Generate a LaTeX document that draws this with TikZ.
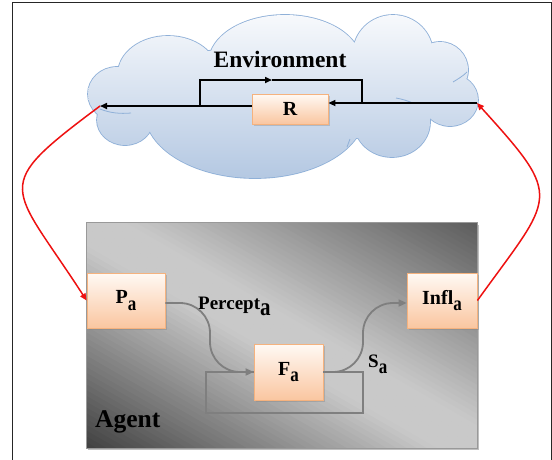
\documentclass[tikz,border=0pt]{standalone}
\usepackage{fontspec}
\setmainfont{Liberation Serif}
\usepackage{graphicx}
\usetikzlibrary{arrows.meta,shadows,calc}
\definecolor{boxtop}{HTML}{FFF9F4}
\definecolor{boxbot}{HTML}{FAC6A0}
\definecolor{boxline}{HTML}{F5B27E}
\definecolor{cloudtop}{HTML}{F7F9FC}
\definecolor{cloudbot}{HTML}{B4C8E2}
\definecolor{cloudline}{HTML}{8FB0D8}
\definecolor{flowgray}{HTML}{7F7F7F}
\definecolor{agdark}{HTML}{404040}
\definecolor{agdarkb}{HTML}{5C5C5C}
\definecolor{aglight}{HTML}{C9C9C9}
\definecolor{redline}{HTML}{EE1111}
\newcommand{\subA}[1][17]{\raisebox{-0.33em}{\fontsize{#1}{#1}\selectfont\scalebox{1}[1.2]{a}}}
\begin{document}
\begin{tikzpicture}[x=1pt,y=-1pt,
  box/.style={draw=boxline, line width=0.8pt, top color=boxtop, bottom color=boxbot,
    drop shadow={shadow xshift=1.5pt, shadow yshift=-1.5pt, opacity=0.35},
    font=\fontsize{20}{20}\selectfont\bfseries, inner sep=0pt},
  lbl/.style={font=\fontsize{19}{19}\selectfont\bfseries, inner sep=0pt},
  blk/.style={draw=black, line width=1.6pt, -{Triangle[length=7pt,width=6pt]}},
  blkline/.style={draw=black, line width=1.6pt},
  gr/.style={draw=flowgray, line width=1.8pt, -{Triangle[length=8pt,width=7pt]}},
  grline/.style={draw=flowgray, line width=1.8pt},
  redarr/.style={draw=redline, line width=1.5pt, -{Triangle[length=7pt,width=6pt]}},
  puffline/.style={draw=cloudline, line width=0.8pt}]
\useasboundingbox (0,0) rectangle (552,459);
\fill[white] (0,0) rectangle (552,459);
\draw[black!85, line width=0.9pt] (12,470) -- (12,2.5) -- (551,2.5) -- (551,470);

% environment cloud (union of puffs: outline first, shading on top)
\draw[cloudline, line width=1.7pt]
  foreach \cx/\cy/\rx/\ry in {117/94/29/27, 168/74/50/38, 285/62/76/47, 393/54/40/39,
    440/70/28/28, 450/100/28/26, 392/122/38/35, 255/112/110/66, 125/120/28/25, 280/95/150/50}
  { (\cx,\cy) ellipse [x radius=\rx, y radius=\ry] };
\shade[top color=cloudtop, bottom color=cloudbot]
  foreach \cx/\cy/\rx/\ry in {117/94/29/27, 168/74/50/38, 285/62/76/47, 393/54/40/39,
    440/70/28/28, 450/100/28/26, 392/122/38/35, 255/112/110/66, 125/120/28/25, 280/95/150/50}
  { (\cx,\cy) ellipse [x radius=\rx, y radius=\ry] };
\draw[puffline] (100,109) .. controls (110,113) and (120,114) .. (131,113);
\draw[puffline] (396,98) .. controls (402,99) and (408,101) .. (413,103);
\draw[puffline] (453,82) .. controls (458,79) and (463,76) .. (467,72);
\draw[puffline] (347,147) .. controls (348,144) and (349,142) .. (350,139);

\coordinate (envC) at (282,100);
\node[font=\fontsize{23.5}{24}\selectfont\bfseries, inner sep=0pt] (envtxt) at (280,59) {Environment};
\node[box, minimum width=76pt, minimum height=30pt] (R) at (290,109) {R};
\coordinate (envL) at (100,106);
\coordinate (envR) at (477,103);
\coordinate (byL) at (200,106);
\coordinate (byR) at (362,103);
\coordinate (byM) at (272,80);
\draw[blk] (R.west |- envL) -- (envL);
\draw[blk] (envR) -- (R.east |- envR);
\draw[blk] (byL) |- (byM);
\draw[blkline] (byM) -| (byR);

% agent
\node[minimum width=390pt, minimum height=225pt, inner sep=0pt] (agent) at (282,335.5) {};
\fill[black, opacity=0.25] ($(agent.south west)+(1.5,2)$) rectangle ($(agent.north east)+(1.5,2)$);
\begin{scope}
  \clip (agent.south west) rectangle (agent.north east);
  \begin{scope}[shift={(agent.center)}, x=1pt, y=1pt, rotate=-30]
    \foreach \t in {-205,-200,...,-5} {
      \pgfmathsetmacro\d{min(100,max(0,(abs((\t+2.5)/195)-0.1)/0.9*100))}
      \fill[agdark!\d!aglight] (-300,\t) rectangle (300,\t+5.6);
    }
    \foreach \t in {0,5,...,200} {
      \pgfmathsetmacro\d{min(100,max(0,(abs((\t+2.5)/195)-0.1)/0.9*100))}
      \fill[agdarkb!\d!aglight] (-300,\t) rectangle (300,\t+5.6);
    }
  \end{scope}
\end{scope}
\draw[gray!80, line width=0.8pt] (agent.south west) rectangle (agent.north east);

\node[box, minimum width=78pt, minimum height=55pt] (Pa) at (126,300.5) {P\subA};
\node[box, minimum width=70pt, minimum height=55pt] (Infl) at (442,300.5) {Infl\subA};
\node[box, minimum width=69pt, minimum height=56pt] (Fa) at (288.5,372) {F\subA};
\node[lbl, anchor=base west] (perc) at (198,309) {Percept\subA[21]};
\node[lbl, anchor=base west] (sa) at (368,367) {S\subA[17]};
\node[font=\fontsize{25.5}{26}\selectfont\bfseries, inner sep=0pt, anchor=base west] (agtxt) at (95,427) {Agent};

\draw[grline] (Fa.east) -- (363,372) -- (363,413) -- (206,413) -- (206,372) -- (Fa.west);
\draw[gr, rounded corners=30pt] ($(Pa.east)+(0,2.5)$) -- (210,303) -- (210,372) -- (Fa.west);
\draw[gr, rounded corners=30pt] (Fa.east) -- (363,372) -- (363,303) -- ($(Infl.west)+(0,2.5)$);

% red links
\draw[redarr] (envL) .. controls (-11,189) and (10,182) .. (Pa.west);
\draw[redarr] (Infl.east) .. controls (554,194) and (565,200) .. (envR);
\end{tikzpicture}
\end{document}
